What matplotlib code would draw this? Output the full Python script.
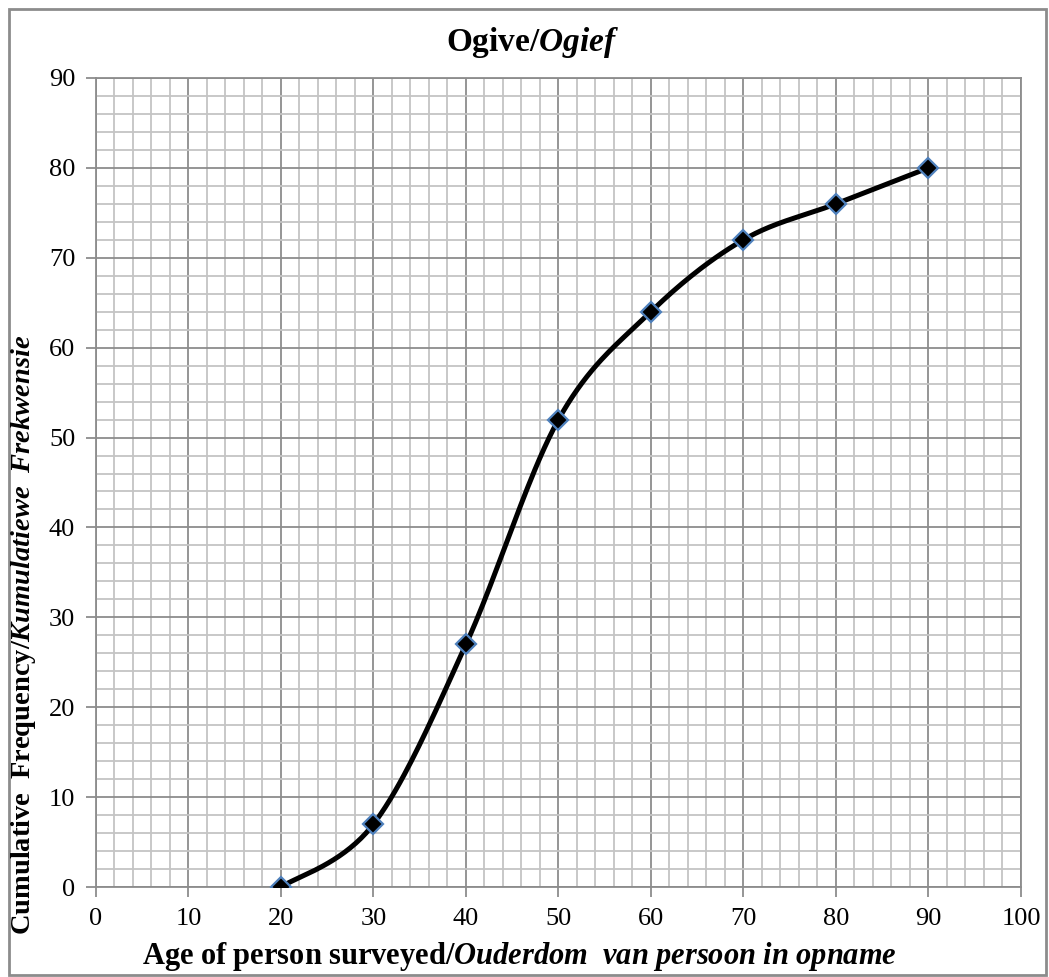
import numpy as np
import matplotlib
matplotlib.use('Agg')
import matplotlib.pyplot as plt
from matplotlib.patches import Rectangle

plt.rcParams['font.family'] = ['Liberation Serif', 'DejaVu Serif']
plt.rcParams['mathtext.fontset'] = 'custom'
plt.rcParams['mathtext.rm'] = 'Liberation Serif'
plt.rcParams['mathtext.bf'] = 'Liberation Serif:bold'
plt.rcParams['mathtext.it'] = 'Liberation Serif:italic'
plt.rcParams['mathtext.bfit'] = 'Liberation Serif:italic:bold'

ages = [20, 30, 40, 50, 60, 70, 80, 90]
cum_freq = [0, 7, 27, 52, 64, 72, 76, 80]

x_ticks = list(range(0, 101, 10))
y_ticks = list(range(0, 91, 10))


def smooth_curve(xs, ys, n=40):
    # excel-like smoothed line (catmull-rom as cubic bezier)
    p = np.column_stack([xs, ys]).astype(float)
    p = np.vstack([p[0], p, p[-1]])
    out = []
    t = np.linspace(0, 1, n)[:, None]
    for i in range(1, len(p) - 2):
        p0, p1, p2, p3 = p[i - 1], p[i], p[i + 1], p[i + 2]
        c1 = p1 + (p2 - p0) / 6
        c2 = p2 - (p3 - p1) / 6
        seg = ((1 - t) ** 3) * p1 + 3 * ((1 - t) ** 2) * t * c1 + 3 * (1 - t) * t ** 2 * c2 + t ** 3 * p2
        out.append(seg)
    out = np.vstack(out)
    return out[:, 0], out[:, 1]


fig = plt.figure(figsize=(10.49, 9.77), dpi=100)
ax = fig.add_axes([0.0915, 0.0921, 0.8818, 0.8281])

sx, sy = smooth_curve(ages, cum_freq)
ax.plot(sx, sy, color='black', linewidth=3.6, zorder=3, solid_capstyle='round')
ax.plot(ages, cum_freq, linestyle='none', marker='D', markersize=10,
        markerfacecolor='black', markeredgecolor='#4f81bd', markeredgewidth=1.6, zorder=4)

ax.set_xlim(0, 100)
ax.set_ylim(0, 90)
ax.set_xticks(x_ticks)
ax.set_yticks(y_ticks)
ax.set_xticks(np.arange(0, 101, 2), minor=True)
ax.set_yticks(np.arange(0, 91, 2), minor=True)
ax.grid(which='minor', color='#c4c4c4', linewidth=1.3, zorder=0)
ax.grid(which='major', color='#8c8c8c', linewidth=1.3, zorder=1)
ax.set_axisbelow(True)
ax.tick_params(which='minor', length=0)
ax.tick_params(which='major', length=7, width=1.3, color='#8c8c8c', labelsize=19, pad=8)
for s in ax.spines.values():
    s.set_color('#8c8c8c')
    s.set_linewidth(1.3)

fig.text(0.508, 0.957, r'$\mathbf{Ogive/}\mathbfit{Ogief}$', fontsize=24, ha='center', va='center')
fig.text(0.495, 0.021, r'$\mathbf{Age\ of\ person\ surveyed/}\mathbfit{Ouderdom\ \ van\ persoon\ in\ opname}$',
         fontsize=22, ha='center', va='center')
fig.text(0.022, 0.35, r'$\mathbf{Cumulative\ \ Frequency/}\mathbfit{Kumulatiewe\ \ Frekwensie}$',
         rotation=90, fontsize=20.5, ha='center', va='center')

fig.patches.append(Rectangle((0.009, 0.002), 0.988, 0.989, transform=fig.transFigure,
                             fill=False, edgecolor='#8c8c8c', linewidth=2))

fig.savefig('out.png', dpi=100)
